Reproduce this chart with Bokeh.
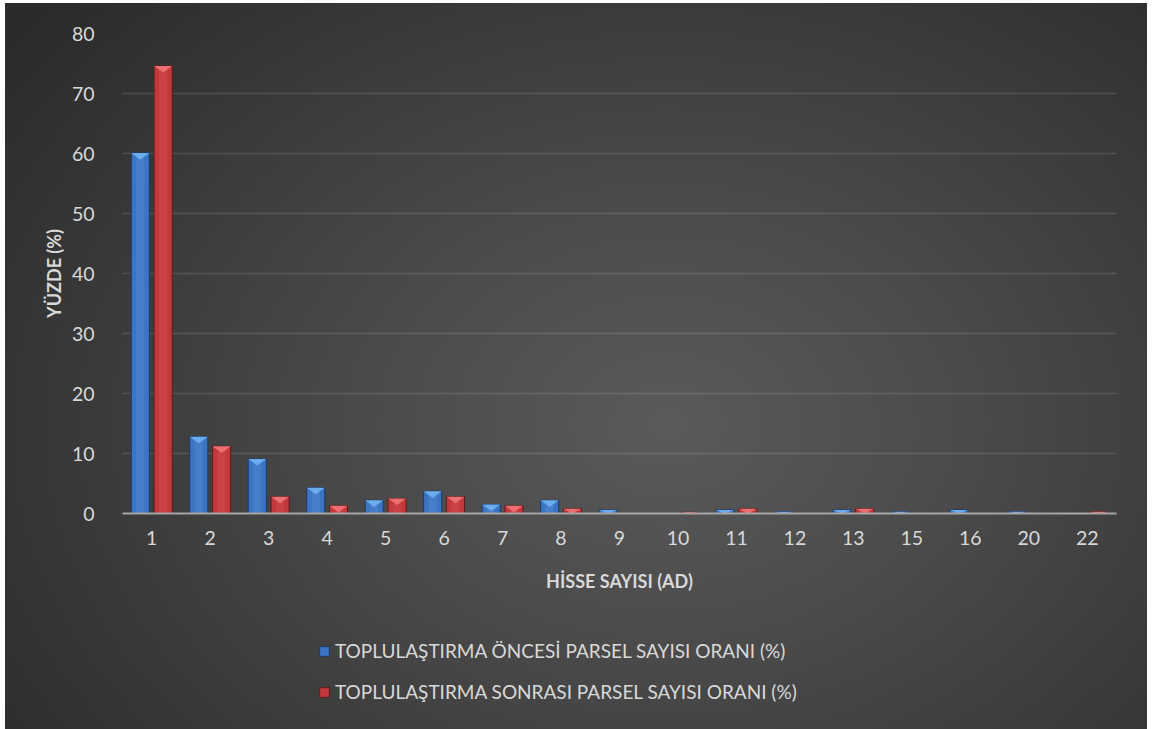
import numpy as np
from bokeh.plotting import figure
from bokeh.layouts import column
from bokeh.models import Range1d, FixedTicker, Legend, LegendItem
from bokeh.embed import file_html
from bokeh.resources import INLINE

# ---- data ----
categories = ["1", "2", "3", "4", "5", "6", "7", "8", "9", "10", "11", "12", "13", "15", "16", "20", "22"]
before_pct = [60.1, 12.8, 9.1, 4.3, 2.2, 3.7, 1.5, 2.2, 0.6, 0.0, 0.6, 0.3, 0.6, 0.3, 0.6, 0.3, 0.0]
after_pct = [74.6, 11.2, 2.8, 1.3, 2.5, 2.8, 1.3, 0.8, 0.0, 0.2, 0.8, 0.0, 0.8, 0.0, 0.0, 0.0, 0.3]
y_ticks = [0, 10, 20, 30, 40, 50, 60, 70, 80]
series_names = ["TOPLULAŞTIRMA ÖNCESİ PARSEL SAYISI ORANI (%)",
                "TOPLULAŞTIRMA SONRASI PARSEL SAYISI ORANI (%)"]
x_title = "HİSSE SAYISI (AD)"
y_title = "YÜZDE (%)"

FONT = "Lato"
TXT = "#d9d9d9"

pos = np.arange(1, len(categories) + 1)

p = figure(frame_width=994, frame_height=480, output_backend="svg", toolbar_location=None,
           x_range=Range1d(0.5, len(categories) + 0.5), y_range=Range1d(0, 80),
           min_border_left=117, min_border_right=31, min_border_top=30, min_border_bottom=100)
p.border_fill_alpha = 0
p.background_fill_alpha = 0
p.outline_line_color = None

bw = 0.31
off = 0.195
series = [
    (before_pct, -off, "#3b74c2", "#1c3a66", "#6fb2f2", "#5c93da"),
    (after_pct, off, "#c3393b", "#5e1a1b", "#f07577", "#d65557"),
]
for vals, o, col, edge, light, mid in series:
    v = np.array(vals, dtype=float)
    x = pos + o
    mask = v > 0
    p.vbar(x=x[mask], top=v[mask], width=bw, bottom=0, fill_color=col,
           line_color=edge, line_width=1)
    p.vbar(x=x[mask], top=v[mask], width=bw * 0.45, bottom=0, fill_color=mid,
           fill_alpha=0.35, line_color=None)
    h = np.minimum(1.1, v[mask])
    xs = [[xi - bw / 2, xi + bw / 2, xi] for xi in x[mask]]
    ys = [[vi, vi, vi - hi] for vi, hi in zip(v[mask], h)]
    p.patches(xs, ys, fill_color=light, fill_alpha=0.9, line_color=None)

p.xgrid.grid_line_color = None
p.ygrid.grid_line_color = "#ffffff"
p.ygrid.grid_line_alpha = 0.13
p.ygrid.grid_line_width = 1.5
p.ygrid.ticker = FixedTicker(ticks=y_ticks)

p.yaxis.ticker = FixedTicker(ticks=y_ticks)
p.yaxis.axis_line_color = None
p.yaxis.major_tick_line_color = None
p.yaxis.minor_tick_line_color = None
p.yaxis.major_label_standoff = 22
p.yaxis.major_label_text_font = FONT
p.yaxis.major_label_text_font_size = "19.5px"
p.yaxis.major_label_text_color = TXT
p.yaxis.axis_label = y_title
p.yaxis.axis_label_text_font = FONT
p.yaxis.axis_label_text_font_size = "18px"
p.yaxis.axis_label_text_font_style = "bold"
p.yaxis.axis_label_text_color = TXT
p.yaxis.axis_label_standoff = 4

p.xaxis.ticker = FixedTicker(ticks=list(pos))
p.xaxis.major_label_overrides = {int(i): c for i, c in zip(pos, categories)}
p.xaxis.axis_line_color = "#a6a6a6"
p.xaxis.axis_line_width = 2
p.xaxis.major_tick_line_color = None
p.xaxis.minor_tick_line_color = None
p.xaxis.major_label_standoff = 11
p.xaxis.major_label_text_font = FONT
p.xaxis.major_label_text_font_size = "19.5px"
p.xaxis.major_label_text_color = TXT
p.xaxis.axis_label = x_title
p.xaxis.axis_label_text_font = FONT
p.xaxis.axis_label_text_font_size = "18px"
p.xaxis.axis_label_text_font_style = "bold"
p.xaxis.axis_label_text_color = TXT
p.xaxis.axis_label_standoff = 22

# legend strip below the chart
lp = figure(width=1142, height=116, output_backend="svg", toolbar_location=None,
            x_range=Range1d(0, 1), y_range=Range1d(0, 1),
            x_axis_location=None, y_axis_location=None, min_border=0)
lp.border_fill_alpha = 0
lp.background_fill_alpha = 0
lp.outline_line_color = None
lp.grid.grid_line_color = None
items = []
for name, (vals, o, col, edge, light, mid) in zip(series_names, series):
    # legend proxy: a swatch renderer kept outside the strip's visible range
    r = lp.vbar(x=[0.5], top=[-1.0], bottom=-2.0, width=0.1, fill_color=col,
                line_color=edge, line_width=1)
    items.append(LegendItem(label=name, renderers=[r]))
legend = Legend(items=items, orientation="vertical", location=(196, 26),
                background_fill_alpha=0, border_line_color=None,
                label_text_font=FONT, label_text_font_size="19px", label_text_color=TXT,
                glyph_width=12, glyph_height=12, label_standoff=5, spacing=18,
                label_height=20, padding=0, margin=0)
lp.add_layout(legend, "center")

layout = column(p, lp, spacing=0)
layout.styles = {"background": "radial-gradient(ellipse 822px 617px at 662px 421px, #5a5a5a 0%, #4b4b4b 35%, #2b2b2b 100%)",
                 "margin-left": "5px", "margin-top": "3px"}

open("out.html", "w").write(file_html(layout, INLINE))
